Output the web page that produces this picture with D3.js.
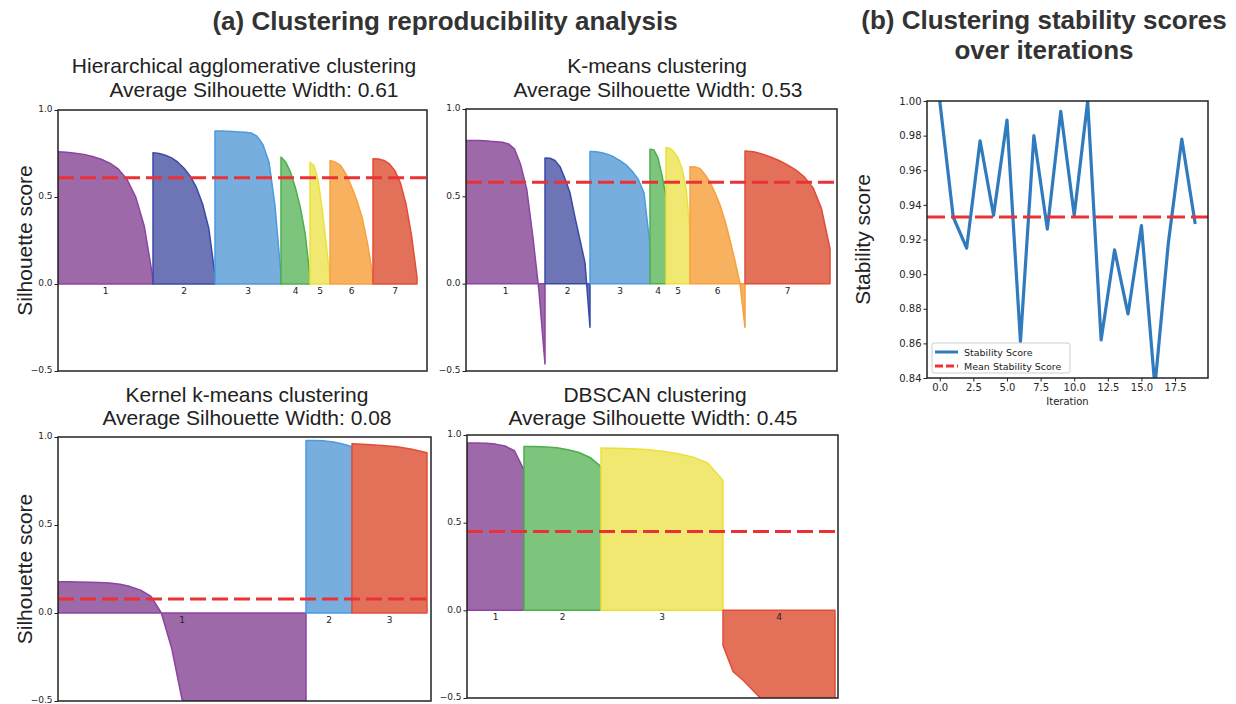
<!DOCTYPE html>
<html>
<head>
<meta charset="utf-8">
<script src="https://cdn.jsdelivr.net/npm/d3@7"></script>
<style>
  body { margin: 0; background: #fff; }
  svg { display: block; font-family: "Liberation Sans", Arial, sans-serif; }
  .tick text { font-family: "DejaVu Sans", sans-serif; fill: #262626; }
</style>
</head>
<body>
<div id="chart"></div>
<script>

// cluster colours (fill, edge), indexed by cluster colour id
const fillColors = ["#9e69a9", "#6e75b6", "#77aedd", "#7dc47d", "#f0e870", "#f8b15f", "#e3715a"];
const edgeColors = ["#8b44a3", "#3a4aa5", "#4a9be0", "#4cae4f", "#eae23a", "#f7a040", "#e04d3a"];

const hierSizes = [95, 62, 66, 29, 20, 43, 44];
const hierColors = [0, 1, 2, 3, 4, 5, 6];
const hierScores = [
  [0.76, 0.757, 0.752, 0.745, 0.733, 0.717, 0.695, 0.66, 0.60, 0.50, 0.33, 0.03],
  [0.755, 0.75, 0.74, 0.725, 0.70, 0.665, 0.62, 0.555, 0.46, 0.32, 0.05],
  [0.88, 0.88, 0.878, 0.876, 0.874, 0.872, 0.868, 0.85, 0.80, 0.70, 0.45, 0.05],
  [0.73, 0.70, 0.64, 0.55, 0.44, 0.29, 0.04],
  [0.70, 0.68, 0.60, 0.44, 0.24, 0.03],
  [0.71, 0.70, 0.68, 0.63, 0.56, 0.48, 0.38, 0.23, 0.04],
  [0.72, 0.718, 0.71, 0.69, 0.65, 0.58, 0.46, 0.28, 0.04]
];
const hierAvg = "0.61";
const hierLine = 0.61;

// K-means clustering
const kmSizes = [79, 45, 60, 16, 24, 55, 85];
const kmColors = [0, 1, 2, 3, 4, 5, 6];
const kmScores = [
  [0.82, 0.82, 0.82, 0.818, 0.815, 0.813, 0.81, 0.80, 0.77, 0.68, 0.54, 0.27, -0.04, -0.46],
  [0.72, 0.718, 0.705, 0.67, 0.60, 0.52, 0.38, 0.25, 0.12, -0.25],
  [0.757, 0.755, 0.75, 0.74, 0.725, 0.705, 0.68, 0.645, 0.60, 0.52, 0.22],
  [0.77, 0.765, 0.72, 0.62, 0.50],
  [0.78, 0.775, 0.755, 0.72, 0.66, 0.55, 0.30],
  [0.67, 0.668, 0.66, 0.625, 0.58, 0.52, 0.45, 0.36, 0.25, 0.13, 0.0, -0.25],
  [0.76, 0.755, 0.742, 0.725, 0.705, 0.68, 0.65, 0.61, 0.55, 0.43, 0.20]
];
const kmAvg = "0.53";
const kmLine = 0.58;

// Kernel k-means clustering
const kkSizes = [248, 46, 75];
const kkColors = [0, 2, 6];
const kkScores = [
  [0.177, 0.177, 0.176, 0.175, 0.174, 0.17, 0.163, 0.15, 0.13, 0.095, 0.0, -0.2, -0.49,
   -0.53, -0.54, -0.54, -0.55, -0.55, -0.55, -0.56, -0.56, -0.56, -0.57, -0.57, -0.57],
  [0.98, 0.98, 0.978, 0.972, 0.96, 0.945],
  [0.962, 0.958, 0.952, 0.944, 0.93, 0.91]
];
const kkAvg = "0.08";
const kkLine = 0.08;

// DBSCAN clustering
const dbSizes = [57, 77, 122, 112];
const dbColors = [0, 3, 4, 6];
const dbScores = [
  [0.955, 0.955, 0.953, 0.948, 0.937, 0.91, 0.80],
  [0.935, 0.934, 0.932, 0.927, 0.916, 0.90, 0.872, 0.82],
  [0.926, 0.925, 0.922, 0.917, 0.908, 0.895, 0.875, 0.84, 0.74],
  [-0.2, -0.35, -0.40, -0.46, -0.52, -0.56, -0.6, -0.63, -0.66, -0.7, -0.74, -0.78]
];
const dbAvg = "0.45";
const dbLine = 0.45;

const silTicks = [-0.5, 0, 0.5, 1.0];

// (b) stability scores per iteration
const iterations = d3.range(20);
const stability = [1.000, 0.933, 0.915, 0.977, 0.934, 0.989, 0.861, 0.980, 0.926, 0.994,
                   0.934, 1.000, 0.862, 0.914, 0.877, 0.928, 0.835, 0.918, 0.978, 0.929];
const meanStability = 0.933;
const stabYTicks = [0.84, 0.86, 0.88, 0.90, 0.92, 0.94, 0.96, 0.98, 1.00];
const stabXTicks = [0, 2.5, 5, 7.5, 10, 12.5, 15, 17.5];

let w = 1236,
    h = 704;

let svg = d3.select("#chart")
            .append("svg")
            .attr("width", w)
            .attr("height", h);

svg.append("rect").attr("width", w).attr("height", h).attr("fill", "#fff");

// panel layouts
let panels = [
  { id: "hier", sizes: hierSizes, colors: hierColors, scores: hierScores, line: hierLine,
    titles: ["Hierarchical agglomerative clustering", `Average Silhouette Width: ${hierAvg}`],
    tx: [244, 254], ty: [73, 97], total: 369, x: 58, y: 110, w: 369, h: 261, ylabel: true },
  { id: "km", sizes: kmSizes, colors: kmColors, scores: kmScores, line: kmLine,
    titles: ["K-means clustering", `Average Silhouette Width: ${kmAvg}`],
    tx: [657, 658], ty: [73, 97], total: 371, x: 466, y: 109, w: 371, h: 262, ylabel: false },
  { id: "kk", sizes: kkSizes, colors: kkColors, scores: kkScores, line: kkLine,
    titles: ["Kernel k-means clustering", `Average Silhouette Width: ${kkAvg}`],
    tx: [247, 247], ty: [402, 425], total: 373, x: 58, y: 437, w: 373, h: 264, ylabel: true },
  { id: "db", sizes: dbSizes, colors: dbColors, scores: dbScores, line: dbLine,
    titles: ["DBSCAN clustering", `Average Silhouette Width: ${dbAvg}`],
    tx: [655, 653], ty: [402, 425], total: 371, x: 467, y: 435, w: 371, h: 263, ylabel: false }
];

// big titles
svg.append("text")
   .attr("x", 445).attr("y", 30)
   .attr("text-anchor", "middle")
   .style("font-size", "26px").style("font-weight", "bold").style("fill", "#333")
   .text("(a) Clustering reproducibility analysis");

svg.append("text")
   .attr("x", 1044).attr("y", 29)
   .attr("text-anchor", "middle")
   .style("font-size", "26px").style("font-weight", "bold").style("fill", "#333")
   .text("(b) Clustering stability scores");

svg.append("text")
   .attr("x", 1044).attr("y", 59)
   .attr("text-anchor", "middle")
   .style("font-size", "26px").style("font-weight", "bold").style("fill", "#333")
   .text("over iterations");

let drawSilhouette = (p) => {
  let g = svg.append("g").attr("id", p.id);

  let x = d3.scaleLinear().domain([0, p.total]).range([p.x, p.x + p.w]);
  let y = d3.scaleLinear().domain([-0.5, 1]).range([p.y + p.h, p.y]);

  g.append("clipPath").attr("id", `clip-${p.id}`)
   .append("rect").attr("x", p.x).attr("y", p.y).attr("width", p.w).attr("height", p.h);

  let plot = g.append("g").attr("clip-path", `url(#clip-${p.id})`);

  let area = d3.area()
               .x(d => x(d[0]))
               .y0(y(0))
               .y1(d => y(d[1]));

  let start = 0;
  let centres = [];
  p.sizes.forEach((size, k) => {
    let vals = p.scores[k];
    let pts = vals.map((v, i) => [start + size * i / (vals.length - 1), v]);
    plot.append("path")
        .attr("d", area(pts))
        .attr("fill", fillColors[p.colors[k]])
        .attr("stroke", edgeColors[p.colors[k]])
        .attr("stroke-width", 1.5)
        .attr("stroke-linejoin", "round");
    centres.push(start + size / 2);
    start += size;
  });

  // cluster numbers
  centres.forEach((c, k) => {
    g.append("text")
     .attr("x", x(c)).attr("y", y(0) + 10)
     .attr("text-anchor", "middle")
     .style("font-family", "DejaVu Sans, sans-serif")
     .style("font-size", "9px").style("fill", "#222")
     .text(k + 1);
  });

  // average silhouette line
  plot.append("line")
      .attr("x1", p.x).attr("x2", p.x + p.w)
      .attr("y1", y(p.line)).attr("y2", y(p.line))
      .attr("stroke", "#ea3236").attr("stroke-width", 3)
      .attr("stroke-dasharray", "16,6");

  // frame
  g.append("rect")
   .attr("x", p.x).attr("y", p.y).attr("width", p.w).attr("height", p.h)
   .attr("fill", "none").attr("stroke", "#222").attr("stroke-width", 1.5);

  let yAxis = g.append("g")
               .attr("transform", `translate(${p.x},0)`)
               .call(d3.axisLeft(y).tickValues(silTicks).tickFormat(d3.format(".1f")).tickSize(3.5).tickPadding(2));
  yAxis.select(".domain").remove();
  yAxis.selectAll(".tick line").attr("stroke", "#222");
  yAxis.selectAll(".tick text").style("font-size", "9px").attr("dy", "0.2em");

  p.titles.forEach((t, i) => {
    g.append("text")
     .attr("x", p.tx[i]).attr("y", p.ty[i])
     .attr("text-anchor", "middle")
     .style("font-size", "21px").style("fill", "#222")
     .text(t);
  });

  if (p.ylabel) {
    g.append("text")
     .attr("transform", `translate(${p.x - 26},${p.y + p.h / 2}) rotate(-90)`)
     .attr("text-anchor", "middle")
     .style("font-size", "21px").style("fill", "#222")
     .text("Silhouette score");
  }
};

panels.forEach(drawSilhouette);

// (b) stability line chart
let sb = { x: 927, y: 101, w: 281, h: 277 };

let sx = d3.scaleLinear().domain([-0.95, 19.95]).range([sb.x, sb.x + sb.w]);
let sy = d3.scaleLinear().domain([0.84, 1.00]).range([sb.y + sb.h, sb.y]);

let sg = svg.append("g").attr("id", "stability");

sg.append("clipPath").attr("id", "clip-stab")
  .append("rect").attr("x", sb.x).attr("y", sb.y).attr("width", sb.w).attr("height", sb.h);

let splot = sg.append("g").attr("clip-path", "url(#clip-stab)");

let line = d3.line()
             .x((d, i) => sx(iterations[i]))
             .y(d => sy(d));

splot.append("path")
     .attr("d", line(stability))
     .attr("fill", "none")
     .attr("stroke", "#2f7bbd")
     .attr("stroke-width", 3.2)
     .attr("stroke-linejoin", "round");

splot.append("line")
     .attr("x1", sb.x).attr("x2", sb.x + sb.w)
     .attr("y1", sy(meanStability)).attr("y2", sy(meanStability))
     .attr("stroke", "#ea3236").attr("stroke-width", 3)
     .attr("stroke-dasharray", "18,6");

sg.append("rect")
  .attr("x", sb.x).attr("y", sb.y).attr("width", sb.w).attr("height", sb.h)
  .attr("fill", "none").attr("stroke", "#222").attr("stroke-width", 1.5);

let syAxis = sg.append("g")
               .attr("transform", `translate(${sb.x},0)`)
               .call(d3.axisLeft(sy).tickValues(stabYTicks).tickFormat(d3.format(".2f")).tickSize(3.5).tickPadding(2));
syAxis.select(".domain").remove();
syAxis.selectAll(".tick line").attr("stroke", "#222");
syAxis.selectAll(".tick text").style("font-size", "10px");

let sxAxis = sg.append("g")
               .attr("transform", `translate(0,${sb.y + sb.h})`)
               .call(d3.axisBottom(sx).tickValues(stabXTicks).tickFormat(d3.format(".1f")).tickSize(3.5).tickPadding(2));
sxAxis.select(".domain").remove();
sxAxis.selectAll(".tick line").attr("stroke", "#222");
sxAxis.selectAll(".tick text").style("font-size", "10px");

sg.append("text")
  .attr("x", sb.x + sb.w / 2).attr("y", 405)
  .attr("text-anchor", "middle")
  .style("font-family", "DejaVu Sans, sans-serif")
  .style("font-size", "10px").style("fill", "#222")
  .text("Iteration");

sg.append("text")
  .attr("transform", `translate(870,${sb.y + sb.h / 2}) rotate(-90)`)
  .attr("text-anchor", "middle")
  .style("font-size", "21px").style("fill", "#222")
  .text("Stability score");

// legend
let legend = sg.append("g").attr("transform", `translate(${sb.x + 5},${sb.y + sb.h - 35})`);

legend.append("rect")
      .attr("width", 138).attr("height", 30).attr("rx", 2)
      .attr("fill", "#fff").attr("fill-opacity", 0.85)
      .attr("stroke", "#cfcfcf");

let legendItems = [
  { label: "Stability Score", color: "#2f7bbd", dash: null },
  { label: "Mean Stability Score", color: "#ea3236", dash: "8,3" }
];

legendItems.forEach((d, i) => {
  let ly = 9 + i * 14;
  legend.append("line")
        .attr("x1", 3).attr("x2", 26).attr("y1", ly).attr("y2", ly)
        .attr("stroke", d.color).attr("stroke-width", 3)
        .attr("stroke-dasharray", d.dash);
  legend.append("text")
        .attr("x", 32).attr("y", ly + 3.5)
        .style("font-family", "DejaVu Sans, sans-serif")
        .style("font-size", "9.5px").style("fill", "#222")
        .text(d.label);
});

</script>
</body>
</html>
